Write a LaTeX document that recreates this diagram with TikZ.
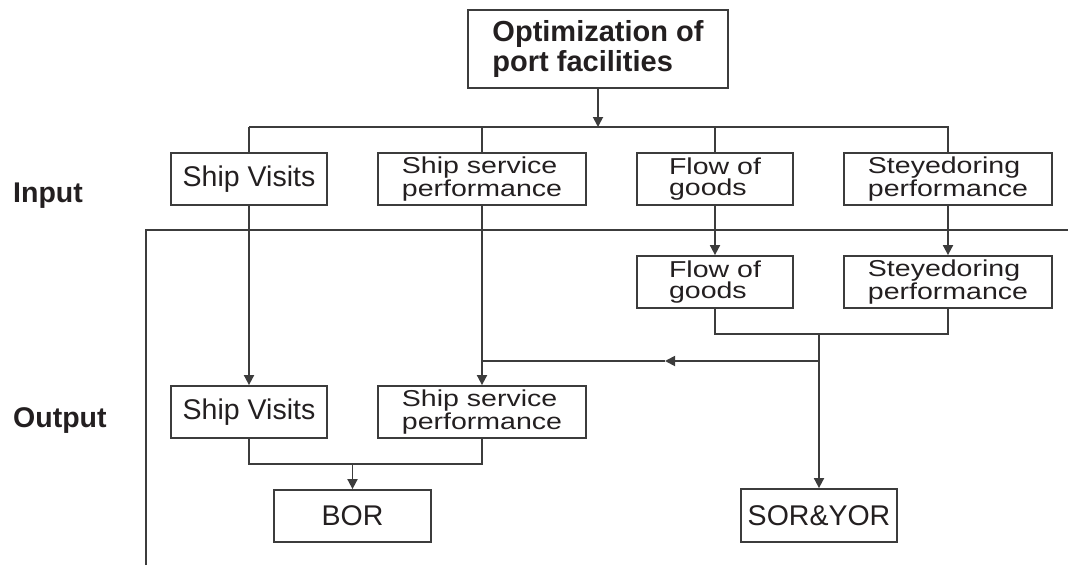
\documentclass[tikz,border=0pt]{standalone}
\usepackage{fontspec}
\setmainfont{Liberation Sans}
\newfontfamily\widefont[FakeStretch=1.24]{Liberation Sans}
\usetikzlibrary{arrows.meta}
\definecolor{ln}{HTML}{3C3C3C}
\definecolor{tx}{HTML}{231F20}
\begin{document}
\begin{tikzpicture}[x=1pt,y=-1pt,
  box/.style={draw=ln, line width=1.8pt, inner sep=0pt, text=tx, font=\fontsize{28.5}{28.5}\selectfont},
  two/.style={box, align=left, font=\widefont\fontsize{23}{21}\selectfont},
  conn/.style={draw=ln, line width=1.8pt},
  arr/.style={conn, -{Triangle[length=10pt,width=10pt]}},
  lbl/.style={inner sep=0pt, text=tx, anchor=base west, font=\bfseries\fontsize{28.5}{28.5}\selectfont}
]
\useasboundingbox (0,0) rectangle (1068,565);

% top
\node[box, align=left, font=\bfseries\fontsize{29}{30}\selectfont, minimum width=260pt, minimum height=78pt] (top) at (598,49) {Optimization of\\port facilities};

% labels
\node[lbl] (lin) at (13,202) {Input};
\node[lbl] (lout) at (13,427) {Output};

% input row
\node[box, minimum width=156pt, minimum height=52pt] (sv1) at (249,179) {Ship Visits};
\node[two, minimum width=208pt, minimum height=52pt] (ss1) at (482,179) {Ship service\\performance};
\node[two, minimum width=156pt, minimum height=52pt] (fg1) at (715,179) {Flow of\\goods};
\node[two, minimum width=208pt, minimum height=52pt] (st1) at (948,179) {Steyedoring\\performance};

% output region
\node[two, minimum width=156pt, minimum height=52pt] (fg2) at (715,282) {Flow of\\goods};
\node[two, minimum width=208pt, minimum height=52pt] (st2) at (948,282) {Steyedoring\\performance};
\node[box, minimum width=156pt, minimum height=52pt] (sv2) at (249,412) {Ship Visits};
\node[two, minimum width=208pt, minimum height=52pt] (ss2) at (482,412) {Ship service\\performance};
\node[box, minimum width=157pt, minimum height=52pt] (bor) at (352.5,516) {BOR};
\node[box, minimum width=156pt, minimum height=53pt] (sor) at (819,515.5) {SOR\&YOR};

% boundary
\coordinate (bl) at (146,565);
\coordinate (bc) at (146,230);
\coordinate (br) at (1068,230);
\draw[conn] (bl) -- (bc) -- (br);

% top distribution
\coordinate (tj) at (598,127);
\coordinate (tl) at (249,127);
\coordinate (tr) at (949,127);
\draw[arr] (top.south) -- (tj);
\draw[conn] (tl) -- (tr);
\draw[conn] (tl) -- (sv1.north);
\draw[conn] (ss1.north |- tl) -- (ss1.north);
\draw[conn] (fg1.north |- tl) -- (fg1.north);
\draw[conn] (st1.north |- tl) -- (st1.north);

% input to output
\draw[arr] (sv1.south) -- (sv2.north);
\draw[arr] (ss1.south) -- (ss2.north);
\draw[arr] (fg1.south) -- (fg2.north);
\draw[arr] (st1.south) -- (st2.north);

% right join
\coordinate (rj) at (819,334);
\coordinate (rh) at (819,361);
\coordinate (rm) at (665,361);
\coordinate (rs) at (482,361);
\draw[conn] (fg2.south) |- (rj) -| (st2.south);
\draw[arr] (rj) -- (sor.north);
\draw[arr] (rh) -- (rm);
\draw[conn] (rm) -- (rs);

% left join
\coordinate (lj) at (352.5,464);
\draw[conn] (sv2.south) |- (lj) -| (ss2.south);
\draw[arr] (lj) -- (bor.north);
\end{tikzpicture}
\end{document}
